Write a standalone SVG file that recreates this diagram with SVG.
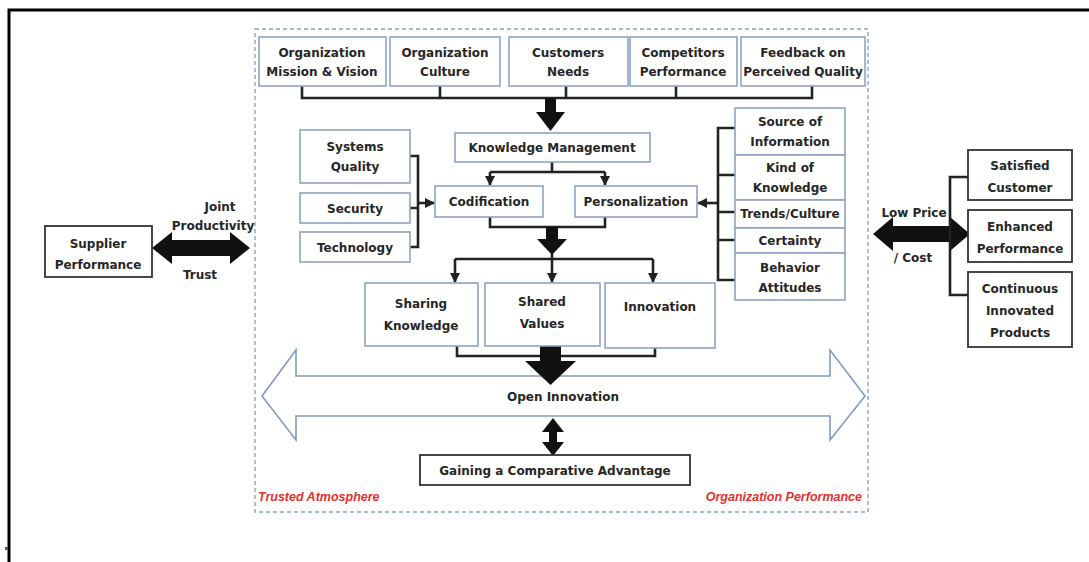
<svg xmlns="http://www.w3.org/2000/svg" width="1089" height="562" viewBox="0 0 1089 562">
<style>
  text{font-family:"DejaVu Sans","Liberation Sans",sans-serif;font-weight:bold;font-size:12px;fill:#262626;text-anchor:middle}
  .bx{fill:#fff;stroke:#8ea4c2;stroke-width:1.6}
  .dk{fill:#fff;stroke:#333;stroke-width:1.8}
  .ln{fill:none;stroke:#222;stroke-width:2.6}
  .red{font-family:"Liberation Sans",Arial,sans-serif;font-style:italic;fill:#e4302b;font-size:12.5px}
  .blk{fill:#111}
</style>
<defs>
  <marker id="ah" viewBox="0 0 10 10" refX="9" refY="5" markerWidth="4" markerHeight="4" orient="auto">
    <path d="M0,0 L10,5 L0,10 Z" fill="#222"/>
  </marker>
</defs>
<rect width="1089" height="562" fill="#fff"/>
<path d="M9,562 V10 H1089" fill="none" stroke="#000" stroke-width="3"/>
<rect x="255" y="29" width="613" height="483" fill="none" stroke="#8ea4c2" stroke-width="1.4" stroke-dasharray="4,3"/>

<g id="open-innovation">
  <path d="M262,396 L296,350 V376 H830 V350 L865,396 L830,440 V416 H296 V440 Z" fill="#fff" stroke="#7f9bbd" stroke-width="1.6"/>
  <text x="563" y="401">Open Innovation</text>
</g>

<g id="connectors">
  <path class="ln" d="M302,86 V98 H812 V86 M440,86 V98 M676,86 V98"/>
  <path class="ln" d="M566,86 V98"/>
  <path class="blk" d="M545,98 H556 V112 H565 L550.5,131 L536,112 H545 Z"/>
  <path class="ln" d="M552,162 V172 M490,172 H605"/>
  <path class="ln" d="M490,172 V185" marker-end="url(#ah)"/>
  <path class="ln" d="M605,172 V185" marker-end="url(#ah)"/>
  <path class="ln" d="M410,156 H418 V247 H410 M410,208 H418"/>
  <path class="ln" d="M418,203 H434" marker-end="url(#ah)"/>
  <path class="ln" d="M735,128 H718 V280 H735 M718,175 H735 M718,212 H735 M718,240 H735"/>
  <path class="ln" d="M718,203 H698" marker-end="url(#ah)"/>
  <path class="ln" d="M490,217 V227 H605 V217"/>
  <path class="blk" d="M546,227 H558 V239 H567 L552,255 L537,239 H546 Z"/>
  <path class="ln" d="M552,254 V259 M455,259 H653"/>
  <path class="ln" d="M455,259 V282" marker-end="url(#ah)"/>
  <path class="ln" d="M552,259 V282" marker-end="url(#ah)"/>
  <path class="ln" d="M653,259 V282" marker-end="url(#ah)"/>
  <path class="ln" d="M457,346 V356 H655 V348"/>
  <path class="blk" d="M540,339 H561 V361 H576 L550.5,385 L525,361 H540 Z"/>
  <path class="blk" d="M553,418 L564,432 H557 V442 H564 L553,456 L542,442 H549 V432 H542 Z"/>
  <path class="blk" d="M152,248 L172,232 V240 H230 V232 L250,248 L230,264 V256 H172 V264 Z"/>
  <path class="blk" d="M873,234 L893,217 V226 H950 V217 L970,234 L950,251 V242 H893 V251 Z"/>
  <path class="ln" d="M968,177 H950 V295 H968"/>
</g>

<g id="n-mission"><rect class="bx" x="259" y="37" width="127" height="49"/><text x="322" y="57">Organization</text><text x="322" y="76">Mission &amp; Vision</text></g>
<g id="n-culture"><rect class="bx" x="390" y="37" width="110" height="49"/><text x="445" y="57">Organization</text><text x="445" y="76">Culture</text></g>
<g id="n-needs"><rect class="bx" x="509" y="37" width="119" height="49"/><text x="568" y="57">Customers</text><text x="568" y="76">Needs</text></g>
<g id="n-competitors"><rect class="bx" x="630" y="37" width="107" height="49"/><text x="683" y="57">Competitors</text><text x="683" y="76">Performance</text></g>
<g id="n-feedback"><rect class="bx" x="741" y="37" width="124" height="49"/><text x="803" y="57">Feedback on</text><text x="803" y="76">Perceived Quality</text></g>

<g id="n-km"><rect class="bx" x="455" y="133" width="195" height="29"/><text x="552" y="152" font-size="12.5">Knowledge Management</text></g>
<g id="n-codification"><rect class="bx" x="435" y="186" width="108" height="31"/><text x="489" y="206" font-size="12.5">Codification</text></g>
<g id="n-personalization"><rect class="bx" x="575" y="186" width="122" height="31"/><text x="636" y="206" font-size="12.5">Personalization</text></g>

<g id="n-systems"><rect class="bx" x="300" y="130" width="110" height="53"/><text x="355" y="151" font-size="12.5">Systems</text><text x="355" y="171" font-size="12.5">Quality</text></g>
<g id="n-security"><rect class="bx" x="300" y="193" width="110" height="30"/><text x="355" y="213" font-size="12.5">Security</text></g>
<g id="n-technology"><rect class="bx" x="300" y="232" width="110" height="30"/><text x="355" y="252" font-size="12.5">Technology</text></g>

<g id="n-source"><rect class="bx" x="735" y="108" width="110" height="47"/><text x="790" y="126" font-size="11.5">Source of</text><text x="790" y="146" font-size="11.5">Information</text></g>
<g id="n-kind"><rect class="bx" x="735" y="155" width="110" height="45"/><text x="790" y="172" font-size="11.5">Kind of</text><text x="790" y="192" font-size="11.5">Knowledge</text></g>
<g id="n-trends"><rect class="bx" x="735" y="200" width="110" height="28"/><text x="790" y="218" font-size="11.5">Trends/Culture</text></g>
<g id="n-certainty"><rect class="bx" x="735" y="228" width="110" height="25"/><text x="790" y="245" font-size="11.5">Certainty</text></g>
<g id="n-behavior"><rect class="bx" x="735" y="253" width="110" height="47"/><text x="790" y="272" font-size="11.5">Behavior</text><text x="790" y="292" font-size="11.5">Attitudes</text></g>

<g id="n-sharing"><rect class="bx" x="365" y="283" width="113" height="63"/><text x="421" y="308" font-size="12.5">Sharing</text><text x="421" y="330" font-size="12.5">Knowledge</text></g>
<g id="n-shared"><rect class="bx" x="485" y="283" width="115" height="63"/><text x="542" y="306" font-size="12.5">Shared</text><text x="542" y="328" font-size="12.5">Values</text></g>
<g id="n-innovation"><rect class="bx" x="605" y="283" width="110" height="65"/><text x="660" y="311" font-size="12.5">Innovation</text></g>

<g id="n-gaining"><rect class="dk" x="420" y="455" width="270" height="30"/><text x="555" y="475" font-size="12.5">Gaining a Comparative Advantage</text></g>

<g id="n-supplier"><rect class="dk" x="45" y="226" width="107" height="51"/><text x="98" y="248" font-size="12.5">Supplier</text><text x="98" y="269" font-size="12.5">Performance</text></g>
<g id="labels-left"><text x="220" y="211" font-size="12.5">Joint</text><text x="213" y="230" font-size="12.5">Productivity</text><text x="200" y="279" font-size="12.5">Trust</text></g>
<g id="labels-right"><text x="914" y="217" font-size="12.5">Low Price</text><text x="913" y="262" font-size="12.5">/ Cost</text></g>

<g id="n-satisfied"><rect class="dk" x="968" y="150" width="104" height="50"/><text x="1020" y="170" font-size="12.5">Satisfied</text><text x="1020" y="192" font-size="12.5">Customer</text></g>
<g id="n-enhanced"><rect class="dk" x="968" y="210" width="104" height="52"/><text x="1020" y="231" font-size="12.5">Enhanced</text><text x="1020" y="253" font-size="12.5">Performance</text></g>
<g id="n-continuous"><rect class="dk" x="968" y="272" width="104" height="75"/><text x="1020" y="293" font-size="12.5">Continuous</text><text x="1020" y="315" font-size="12.5">Innovated</text><text x="1020" y="337" font-size="12.5">Products</text></g>

<g id="footer-labels">
  <text class="red" x="258" y="501" style="text-anchor:start">Trusted Atmosphere</text>
  <text class="red" x="862" y="501" style="text-anchor:end">Organization Performance</text>
</g>
<rect x="5" y="547" width="3" height="3" fill="#555"/>
</svg>
